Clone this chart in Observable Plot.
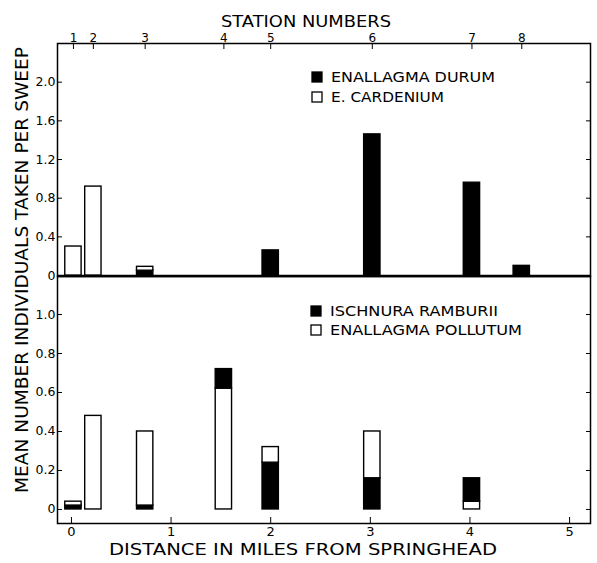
<!DOCTYPE html>
<html><head><meta charset="utf-8">
<script src="https://cdn.jsdelivr.net/npm/d3@7"></script>
<script src="https://cdn.jsdelivr.net/npm/@observablehq/plot@0.6"></script>
<style>
body{margin:0;background:#fff;}
#chart{position:relative;width:597px;height:563px;font-family:"DejaVu Sans",sans-serif;}
#chart svg{position:absolute;left:0;overflow:visible;}
</style></head><body><div id="chart"></div>
<script>
// ---- data ----
const stationNumbers = ["1","2","3","4","5","6","7","8"];
const stationMiles   = [0.02, 0.22, 0.74, 1.53, 2.00, 3.02, 4.02, 4.52];
// upper panel
const durum     = [0, 0, 0.05, 0, 0.26, 1.46, 0.96, 0.10];
const cardenium = [0.30, 0.92, 0.04, 0, 0, 0, 0, 0];
// lower panel
const ramburii  = [0.02, 0, 0.02, 0.10, 0.24, 0.16, 0.12, 0];
const pollutum  = [0.02, 0.48, 0.38, 0.62, 0.08, 0.24, 0.04, 0];
const lowerSegmentSpecies = ["ramburii","pollutum","ramburii","pollutum","ramburii","ramburii","pollutum","ramburii"];
// axes
const mileTicks = [0, 1, 2, 3, 4, 5];
const mileTickLabels = ["0","1","2","3","4","5"];
const topYTicks = [0, 0.4, 0.8, 1.2, 1.6, 2.0];
const topYTickLabels = ["0","0.4","0.8","1.2","1.6","2.0"];
const botYTicks = [0, 0.2, 0.4, 0.6, 0.8, 1.0];
const botYTickLabels = ["0","0.2","0.4","0.6","0.8","1.0"];

// ---- build stacked segments ----
const darkSpecies = new Set(["durum","ramburii"]);
function segments(seriesMap, orderFor) {
  const rows = [];
  stationMiles.forEach((m, i) => {
    let base = 0;
    for (const sp of orderFor(i)) {
      const v = seriesMap[sp][i];
      if (v > 0) { rows.push({mile: m, y1: base, y2: base + v, species: sp}); base += v; }
    }
  });
  return rows;
}
const topSegs = segments({durum, cardenium}, () => ["durum","cardenium"]);
const botSegs = segments({ramburii, pollutum}, i =>
  lowerSegmentSpecies[i] === "ramburii" ? ["ramburii","pollutum"] : ["pollutum","ramburii"]);

const HALF = 0.082;
const FONT = "DejaVu Sans, sans-serif";
const xDomain = [-0.14, 5.21];
const fmt = (ticks, labels) => d => labels[ticks.indexOf(d)];
const barMark = data => Plot.rect(data, {
  x1: d => d.mile - HALF, x2: d => d.mile + HALF, y1: "y1", y2: "y2",
  fill: d => darkSpecies.has(d.species) ? "black" : "white",
  stroke: "black", strokeWidth: 1.4
});

const topPlot = Plot.plot({
  width: 597, height: 276,
  marginLeft: 57, marginRight: 7, marginTop: 43, marginBottom: 0,
  x: {domain: xDomain}, y: {domain: [-0.01, 2.40]},
  style: {overflow: "visible", fontFamily: FONT, fontSize: "12px", color: "black", background: "transparent"},
  marks: [
    Plot.ruleY([0], {stroke: "black", strokeWidth: 1.4}),
    barMark(topSegs),
    Plot.frame({stroke: "black", strokeWidth: 1.5}),
    Plot.axisY({ticks: topYTicks, tickSize: -5, tickFormat: () => "", label: null}),
    Plot.axisY({ticks: topYTicks.slice(1), anchor: "right", tickSize: -5, tickFormat: () => "", label: null}),
    Plot.axisY({ticks: topYTicks, tickSize: 0, tickPadding: 2, tickFormat: fmt(topYTicks, topYTickLabels), label: null, fontSize: 12.5}),
    Plot.axisX({anchor: "top", ticks: stationMiles, tickSize: -5, tickFormat: () => "", label: null}),
    Plot.axisX({anchor: "top", ticks: stationMiles, tickSize: 0, tickPadding: 2, tickFormat: fmt(stationMiles, stationNumbers), label: null, fontSize: 12}),
    Plot.text(["STATION NUMBERS"], {frameAnchor: "top", dx: -18, dy: -27, fontSize: 15, text: d => d})
  ]
});
topPlot.style.top = "0px";

const botPlot = Plot.plot({
  width: 597, height: 287,
  marginLeft: 57, marginRight: 7, marginTop: 0, marginBottom: 40,
  x: {domain: xDomain}, y: {domain: [-0.072, 1.195]},
  style: {overflow: "visible", fontFamily: FONT, fontSize: "12px", color: "black", background: "transparent"},
  marks: [
    barMark(botSegs),
    Plot.frame({stroke: "black", strokeWidth: 1.5}),
    Plot.axisY({ticks: botYTicks, tickSize: -5, tickFormat: () => "", label: null}),
    Plot.axisY({ticks: botYTicks, anchor: "right", tickSize: -5, tickFormat: () => "", label: null}),
    Plot.axisY({ticks: botYTicks, tickSize: 0, tickPadding: 2, tickFormat: fmt(botYTicks, botYTickLabels), label: null, fontSize: 12.5}),
    Plot.axisX({ticks: mileTicks, tickSize: -6, tickFormat: () => "", label: null}),
    Plot.axisX({ticks: mileTicks, tickSize: 0, tickPadding: 3, tickFormat: fmt(mileTicks, mileTickLabels), label: null, fontSize: 13}),
    Plot.text(["DISTANCE IN MILES FROM SPRINGHEAD"], {frameAnchor: "bottom", dx: -21, dy: 31, fontSize: 15, text: d => d})
  ]
});
botPlot.style.top = "276px";

const chart = document.getElementById("chart");
chart.append(topPlot, botPlot);

// stretch title texts to the lettered widths
function fitText(svg, str, len) {
  d3.select(svg).selectAll("text").filter(function(){ return this.textContent === str; })
    .attr("textLength", len).attr("lengthAdjust", "spacingAndGlyphs");
}
fitText(topPlot, "STATION NUMBERS", 170);
fitText(botPlot, "DISTANCE IN MILES FROM SPRINGHEAD", 388);

// overlay: y title and legends
const ov = d3.select(chart).append("svg").attr("width", 597).attr("height", 563)
  .style("top", "0px").style("pointer-events", "none").style("font-family", FONT);
ov.append("text").attr("transform", "translate(23,270) rotate(-90)")
  .attr("text-anchor", "middle").attr("dominant-baseline", "middle")
  .attr("font-size", 17).attr("textLength", 446).attr("lengthAdjust", "spacingAndGlyphs")
  .text("MEAN NUMBER INDIVIDUALS TAKEN PER SWEEP");

const legends = [
  {x: 312, y: 72, label: "ENALLAGMA DURUM", fill: "black", len: 164},
  {x: 312, y: 92, label: "E. CARDENIUM", fill: "white", len: 113},
  {x: 311, y: 306, label: "ISCHNURA RAMBURII", fill: "black", len: 168},
  {x: 311, y: 325, label: "ENALLAGMA POLLUTUM", fill: "white", len: 192}
];
for (const l of legends) {
  ov.append("rect").attr("x", l.x).attr("y", l.y).attr("width", 10).attr("height", 10)
    .attr("fill", l.fill).attr("stroke", "black").attr("stroke-width", 1.3);
  ov.append("text").attr("x", l.x + 19).attr("y", l.y + 5.5).attr("dominant-baseline", "middle")
    .attr("font-size", 14).attr("textLength", l.len).attr("lengthAdjust", "spacingAndGlyphs").text(l.label);
}
</script></body></html>
